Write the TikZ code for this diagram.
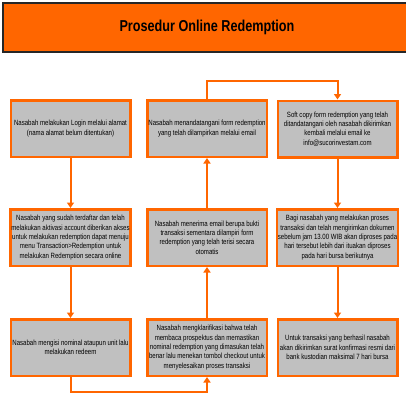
\documentclass[tikz,border=0pt]{standalone}
\usepackage{fontspec}
\setmainfont{Liberation Sans}
\newfontfamily\boxfont[FakeStretch=0.8]{Liberation Sans}
\usetikzlibrary{arrows.meta}
\definecolor{oranye}{HTML}{FF6600}
\definecolor{abu}{HTML}{C0C0C0}
\begin{document}
\begin{tikzpicture}[x=1pt, y=-1pt,
    procbox/.style={draw=oranye, fill=abu, line width=2.5pt, minimum width=119.5pt, minimum height=56.5pt,
      align=center, inner sep=1pt, font=\boxfont\fontsize{7.6}{9.3}\selectfont},
    flowline/.style={draw=oranye, line width=2pt, -{Triangle[width=7pt,length=5.5pt]}}]
    \useasboundingbox (0,0) rectangle (406,396);
    \fill[white] (0,0) rectangle (406,396);

    \node[draw=black!85, fill=oranye, line width=2pt, minimum width=408pt, minimum height=49pt,
      font=\boxfont\bfseries\fontsize{15.8}{18}\selectfont] (judul) at (207,27.5) {Prosedur Online Redemption};

    \node[procbox] (login) at (70.5,128.5) {Nasabah melakukan Login melalui alamat\\(nama alamat belum ditentukan)};
    \node[procbox] (akses) at (70.5,237.5) {Nasabah yang sudah terdaftar dan telah\\melakukan aktivasi account diberikan akses\\untuk melakukan redemption dapat menuju\\menu Transaction>Redemption untuk\\melakukan Redemption secara online};
    \node[procbox] (nominal) at (70.5,347.5) {Nasabah mengisi nominal ataupun unit lalu\\melakukan redeem};

    \node[procbox] (tandatangan) at (207,128.5) {Nasabah menandatangani form redemption\\yang telah dilampirkan melalui email};
    \node[procbox] (bukti) at (207,237.5) {Nasabah menerima email berupa bukti\\transaksi sementara dilampiri form\\redemption yang telah terisi secara\\otomatis};
    \node[procbox] (klarifikasi) at (207,347.5) {Nasabah mengklarifikasi bahwa telah\\membaca prospektus dan memastikan\\nominal redemption yang dimasukan telah\\benar lalu menekan tombol checkout untuk\\menyelesaikan proses transaksi};

    \node[procbox] (softcopy) at (337.5,129) {Soft copy form redemption yang telah\\ditandatangani oleh nasabah dikirimkan\\kembali melalui email ke\\info@sucorinvestam.com};
    \node[procbox] (proses) at (337.5,237.5) {Bagi nasabah yang melakukan proses\\transaksi dan telah mengirimkan dokumen\\sebelum jam 13.00 WIB akan diproses pada\\hari tersebut lebih dari ituakan diproses\\pada hari bursa berikutnya};
    \node[procbox] (konfirmasi) at (337.5,347.5) {Untuk transaksi yang berhasil nasabah\\akan dikirimkan surat konfirmasi resmi dari\\bank kustodian maksimal 7 hari bursa};

    \draw[flowline] (login) -- (akses);
    \draw[flowline] (akses) -- (nominal);
    \draw[flowline] (nominal.south) -- ++(0,15) -| (klarifikasi.south);
    \draw[flowline] (klarifikasi) -- (bukti);
    \draw[flowline] (bukti) -- (tandatangan);
    \draw[flowline] (tandatangan.north) -- ++(0,-18) -| (softcopy.north);
    \draw[flowline] (softcopy) -- (proses);
    \draw[flowline] (proses) -- (konfirmasi);
\end{tikzpicture}
\end{document}
